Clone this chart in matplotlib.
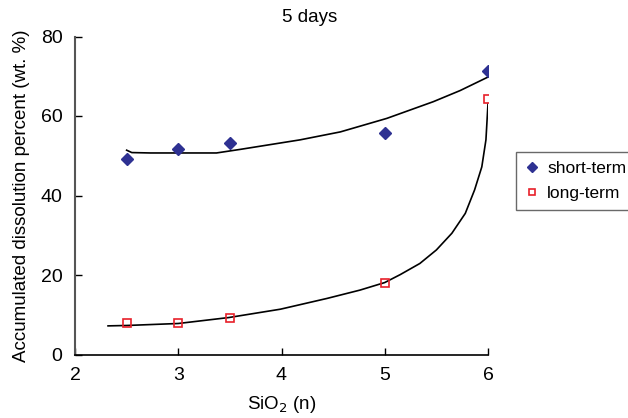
import matplotlib
matplotlib.use("Agg")
import matplotlib.pyplot as plt

plt.rcParams["font.family"] = ["Liberation Sans", "DejaVu Sans"]

# measured points
sio2 = [2.5, 3.0, 3.5, 5.0, 6.0]
short_term = [49.1, 51.8, 53.1, 55.8, 71.2]
long_term = [7.8, 7.8, 9.1, 18.1, 64.2]

# trend curves
short_fit_x = [2.50, 2.55, 2.73, 3.37, 3.60, 4.18, 4.57, 5.02, 5.47, 5.73, 6.00]
short_fit_y = [51.4, 50.8, 50.7, 50.7, 51.6, 54.0, 56.0, 59.4, 63.6, 66.4, 69.8]
long_fit_x = [2.32, 2.50, 3.00, 3.49, 3.99, 4.44, 4.76, 5.00, 5.15, 5.34,
              5.50, 5.65, 5.78, 5.87, 5.94, 5.98, 6.00]
long_fit_y = [7.2, 7.3, 7.8, 9.3, 11.4, 14.1, 16.2, 18.1, 20.1, 22.9,
              26.3, 30.5, 35.5, 41.4, 47.2, 54.0, 63.1]

fig = plt.figure(figsize=(6.28, 4.18), dpi=100)
ax = fig.add_axes([75 / 628, 1 - 354.5 / 418, 413 / 628, 318 / 418])

ax.plot(short_fit_x, short_fit_y, color="black", lw=1.2, zorder=2)
ax.plot(long_fit_x, long_fit_y, color="black", lw=1.2, zorder=2)
ax.plot(sio2, short_term, "D", color="#2E3192", ms=6.3, ls="none",
        label="short-term", zorder=3)
ax.plot(sio2, long_term, "s", mfc="none", mec="#E8202A", mew=1.2, ms=6,
        ls="none", label="long-term", zorder=3)

ax.set_xlim(2, 6)
ax.set_ylim(0, 80)
ax.set_xticks([2, 3, 4, 5, 6])
ax.set_yticks([0, 20, 40, 60, 80])
ax.tick_params(direction="in", length=5, width=1, labelsize=14)
ax.tick_params(axis="x", pad=9)
ax.tick_params(axis="y", pad=9)
ax.spines["top"].set_visible(False)
ax.spines["right"].set_visible(False)
ax.spines["left"].set_color("#555555")
ax.spines["left"].set_linewidth(1.5)
ax.spines["bottom"].set_linewidth(1.2)

ax.set_xlabel("SiO$_2$ (n)", fontsize=13.5, labelpad=7)
ax.set_ylabel("Accumulated dissolution percent (wt. %)", fontsize=13.5, labelpad=8)
fig.text(310 / 628, 1 - 18 / 418, "5 days", fontsize=13.5, ha="center", va="center")

leg = ax.legend(loc="center left", bbox_to_anchor=(516 / 628, 1 - 181 / 418),
                bbox_transform=fig.transFigure, fontsize=12.5, frameon=True,
                fancybox=False, edgecolor="#444444", handlelength=0.8,
                handletextpad=0.5, borderpad=0.5, labelspacing=0.6,
                borderaxespad=0, markerscale=0.8)
leg.get_frame().set_linewidth(1.0)

fig.savefig("out.png", dpi=100)
